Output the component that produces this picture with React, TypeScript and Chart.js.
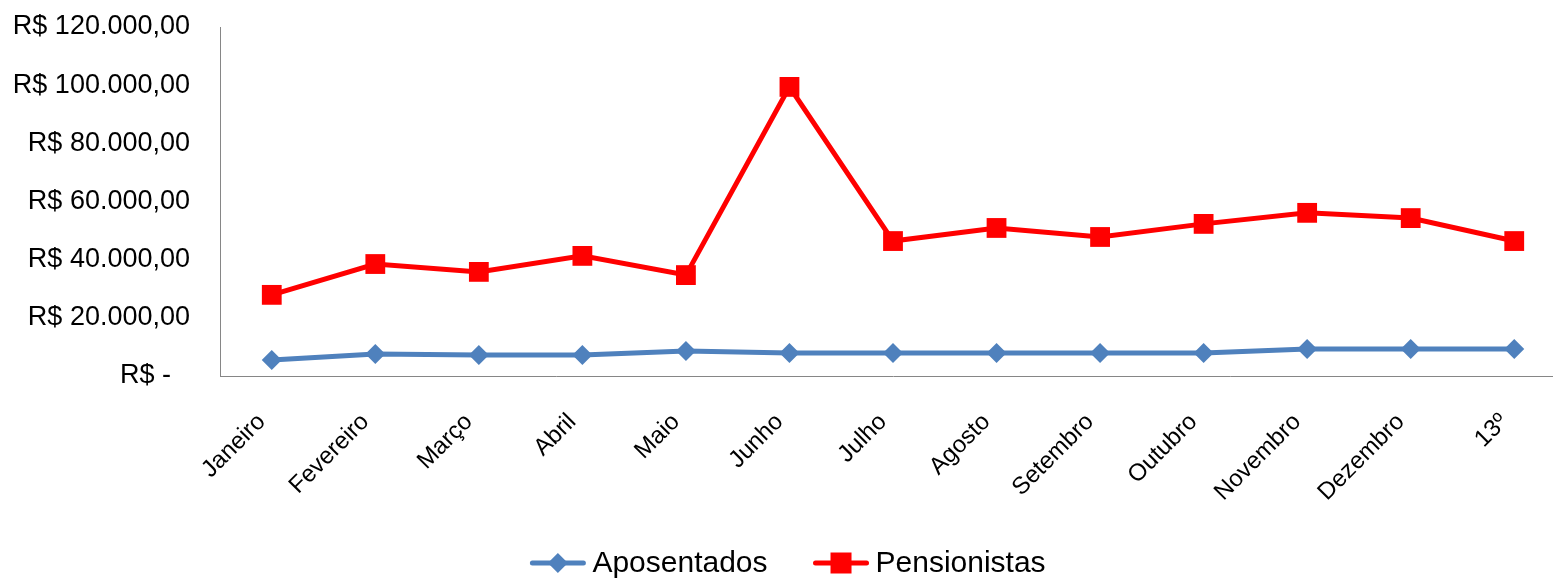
import React, { useEffect, useRef } from "react";
import { Chart, registerables } from "chart.js";

Chart.register(...registerables);

const categories = [
  "Janeiro", "Fevereiro", "Março", "Abril", "Maio", "Junho", "Julho",
  "Agosto", "Setembro", "Outubro", "Novembro", "Dezembro", "13º",
];
const aposentados = [5500, 7600, 7200, 7200, 8600, 7900, 7900, 7900, 7900, 7900, 9300, 9300, 9300];
const pensionistas = [27900, 38500, 35800, 41300, 34700, 99400, 46400, 50900, 47800, 52300, 56100, 54300, 46400];
const yTickValues = [0, 20000, 40000, 60000, 80000, 100000, 120000];
const yTickLabels = [
  "R$ -\u2002\u2009", "R$ 20.000,00", "R$ 40.000,00", "R$ 60.000,00",
  "R$ 80.000,00", "R$ 100.000,00", "R$ 120.000,00",
];
const seriesNames = ["Aposentados", "Pensionistas"];
const seriesColors = ["#4F81BD", "#FF0000"];

const FONT = "'Liberation Sans', Arial, sans-serif";

const legendPlugin = {
  id: "lineLegend",
  afterDraw(chart: any) {
    const ctx = chart.ctx as CanvasRenderingContext2D;
    ctx.save();
    ctx.font = `30px ${FONT}`;
    const lineW = 55;
    const gap = 7;
    const itemGap = 46;
    const widths = seriesNames.map((n) => ctx.measureText(n).width);
    const total = widths.reduce((a, w) => a + lineW + gap + w, 0) + itemGap;
    let x = 788 - total / 2;
    const y = 563;
    seriesNames.forEach((name, i) => {
      const color = seriesColors[i];
      ctx.strokeStyle = color;
      ctx.fillStyle = color;
      ctx.lineWidth = 5;
      ctx.lineCap = "round";
      ctx.beginPath();
      ctx.moveTo(x + 2, y);
      ctx.lineTo(x + lineW - 2, y);
      ctx.stroke();
      const cx = x + lineW / 2;
      ctx.beginPath();
      if (i === 0) {
        const r = 10;
        ctx.moveTo(cx, y - r);
        ctx.lineTo(cx + r, y);
        ctx.lineTo(cx, y + r);
        ctx.lineTo(cx - r, y);
        ctx.closePath();
      } else {
        ctx.rect(cx - 10.5, y - 10.5, 21, 21);
      }
      ctx.fill();
      ctx.fillStyle = "#000000";
      ctx.textBaseline = "middle";
      ctx.textAlign = "left";
      ctx.fillText(name, x + lineW + gap, y + 1);
      x += lineW + gap + widths[i] + itemGap;
    });
    ctx.restore();
  },
};

export default function App() {
  const ref = useRef<HTMLCanvasElement | null>(null);

  useEffect(() => {
    if (!ref.current) return;
    const chart = new Chart(ref.current, {
      type: "line",
      data: {
        labels: categories,
        datasets: [
          {
            label: seriesNames[0],
            data: aposentados,
            borderColor: seriesColors[0],
            backgroundColor: seriesColors[0],
            borderWidth: 5,
            pointStyle: "rectRot",
            pointRadius: 10,
            pointHoverRadius: 10,
            pointBorderWidth: 0,
            tension: 0,
            clip: false as any,
          },
          {
            label: seriesNames[1],
            data: pensionistas,
            borderColor: seriesColors[1],
            backgroundColor: seriesColors[1],
            borderWidth: 5,
            pointStyle: "rect",
            pointRadius: 14,
            pointHoverRadius: 14,
            pointBorderWidth: 0,
            tension: 0,
            clip: false as any,
          },
        ],
      },
      options: {
        animation: false,
        responsive: false,
        devicePixelRatio: 1,
        layout: { padding: { top: 27, left: 0, right: 11, bottom: 0 } },
        plugins: {
          legend: { display: false },
          tooltip: { enabled: false },
        },
        scales: {
          x: {
            type: "category",
            offset: true,
            grid: { display: false, drawTicks: false },
            border: { display: true, color: "#868686", width: 1 },
            ticks: {
              autoSkip: false,
              minRotation: 45,
              maxRotation: 45,
              padding: 32,
              color: "#000000",
              font: { family: FONT, size: 24 },
              labelOffset: -10,
            },
            afterFit(scale: any) {
              scale.height = 205;
            },
          },
          y: {
            min: 0,
            max: 120000,
            grid: { display: false, drawTicks: false },
            border: { display: true, color: "#868686", width: 1 },
            afterBuildTicks(scale: any) {
              scale.ticks = yTickValues.map((v) => ({ value: v }));
            },
            ticks: {
              padding: 30,
              color: "#000000",
              font: { family: FONT, size: 27 },
              callback: (v: any) => {
                const idx = yTickValues.indexOf(Number(v));
                return idx >= 0 ? yTickLabels[idx] : "";
              },
            },
            afterFit(scale: any) {
              scale.width = 220;
              scale.paddingTop = 0;
              scale.paddingBottom = 0;
            },
          },
        },
      },
      plugins: [legendPlugin],
    });
    return () => chart.destroy();
  }, []);

  return (
    <div
      style={{
        position: "fixed",
        left: 0,
        top: 0,
        width: 1553,
        height: 581,
        overflow: "hidden",
        background: "#ffffff",
      }}
    >
      <canvas ref={ref} width={1580} height={581} style={{ display: "block" }} />
    </div>
  );
}
